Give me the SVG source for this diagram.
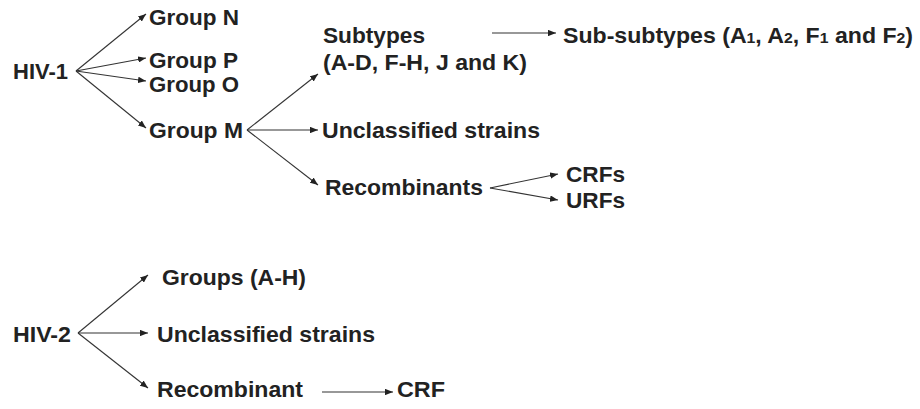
<svg xmlns="http://www.w3.org/2000/svg" width="920" height="409" viewBox="0 0 920 409">
<defs>
<marker id="ah" viewBox="0 0 10 8" refX="10" refY="4" markerWidth="8" markerHeight="6.4" markerUnits="userSpaceOnUse" orient="auto">
<path d="M0,0 L10,4 L0,8 Z" fill="#222"/>
</marker>
<style>
text{font-family:"Liberation Sans",Arial,sans-serif;font-weight:bold;font-size:22px;fill:#222}
.sub{font-size:15px}
line{stroke:#333;stroke-width:1.1;marker-end:url(#ah)}
</style>
</defs>
<rect width="920" height="409" fill="#fff"/>
<g id="connectors">
<line x1="76" y1="71" x2="146" y2="14"/>
<line x1="76" y1="71" x2="146" y2="58"/>
<line x1="76" y1="71" x2="146" y2="81"/>
<line x1="76" y1="71" x2="146" y2="128"/>
<line x1="247" y1="130" x2="318" y2="74"/>
<line x1="247" y1="130" x2="318" y2="130"/>
<line x1="247" y1="130" x2="318" y2="185"/>
<line x1="492" y1="33" x2="556" y2="33"/>
<line x1="490" y1="188" x2="558" y2="174"/>
<line x1="490" y1="188" x2="558" y2="200"/>
<line x1="78" y1="333" x2="148" y2="275"/>
<line x1="78" y1="333" x2="148" y2="333"/>
<line x1="78" y1="333" x2="148" y2="388"/>
<line x1="322" y1="392" x2="393" y2="392"/>
</g>
<g id="hiv1"><text x="13" y="79" textLength="55" lengthAdjust="spacingAndGlyphs">HIV-1</text></g>
<g id="groupN"><text x="149" y="25" textLength="90" lengthAdjust="spacingAndGlyphs">Group N</text></g>
<g id="groupP"><text x="149" y="68" textLength="89" lengthAdjust="spacingAndGlyphs">Group P</text></g>
<g id="groupO"><text x="149" y="92" textLength="90" lengthAdjust="spacingAndGlyphs">Group O</text></g>
<g id="groupM"><text x="149" y="138" textLength="94" lengthAdjust="spacingAndGlyphs">Group M</text></g>
<g id="subtypes"><text x="323" y="43" textLength="102" lengthAdjust="spacingAndGlyphs">Subtypes</text><text x="323" y="70" textLength="204" lengthAdjust="spacingAndGlyphs">(A-D, F-H, J and K)</text></g>
<g id="subsubtypes"><text x="563" y="43" textLength="350" lengthAdjust="spacingAndGlyphs">Sub-subtypes (A<tspan class="sub">1</tspan>, A<tspan class="sub">2</tspan>, F<tspan class="sub">1</tspan> and F<tspan class="sub">2</tspan>)</text></g>
<g id="unclassified1"><text x="322" y="138" textLength="218" lengthAdjust="spacingAndGlyphs">Unclassified strains</text></g>
<g id="recombinants"><text x="325" y="195" textLength="158" lengthAdjust="spacingAndGlyphs">Recombinants</text></g>
<g id="crfs"><text x="566" y="182" textLength="59" lengthAdjust="spacingAndGlyphs">CRFs</text></g>
<g id="urfs"><text x="566" y="208" textLength="59" lengthAdjust="spacingAndGlyphs">URFs</text></g>
<g id="hiv2"><text x="13" y="342" textLength="58" lengthAdjust="spacingAndGlyphs">HIV-2</text></g>
<g id="groupsAH"><text x="162" y="285" textLength="144" lengthAdjust="spacingAndGlyphs">Groups (A-H)</text></g>
<g id="unclassified2"><text x="157" y="342" textLength="218" lengthAdjust="spacingAndGlyphs">Unclassified strains</text></g>
<g id="recombinant2"><text x="157" y="397" textLength="146" lengthAdjust="spacingAndGlyphs">Recombinant</text></g>
<g id="crf"><text x="397" y="397" textLength="48" lengthAdjust="spacingAndGlyphs">CRF</text></g>
</svg>
